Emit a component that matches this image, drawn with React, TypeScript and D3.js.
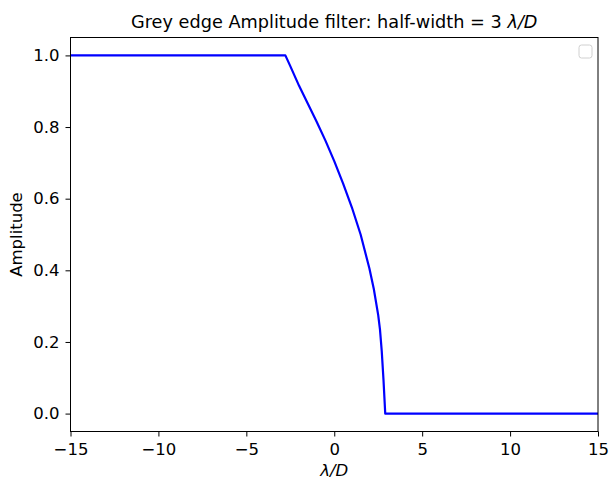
import React, { useEffect, useRef } from "react";
import * as d3 from "d3";

// curve points (lambda/D, amplitude)
const xVals = [-15, -10, -5, -2.78, -2.5, -2.0, -1.5, -1.0, -0.5, 0, 0.5, 1.0, 1.5, 2.0, 2.25, 2.5, 2.6, 2.7, 2.8, 2.9, 5, 10, 15];
const yVals = [1, 1, 1, 1, 0.97, 0.915, 0.865, 0.815, 0.762, 0.705, 0.643, 0.576, 0.5, 0.405, 0.348, 0.275, 0.235, 0.175, 0.095, 0, 0, 0, 0];
const xTicks = [-15, -10, -5, 0, 5, 10, 15];
const yTicks = [0, 0.2, 0.4, 0.6, 0.8, 1.0];

const W = 611;
const H = 480;
const margin = { top: 37.5, right: 13, bottom: 48.5, left: 70.5 };

export default function App() {
  const ref = useRef<SVGSVGElement>(null);

  useEffect(() => {
    const svg = d3.select(ref.current);
    svg.selectAll("*").remove();
    const w = W - margin.left - margin.right;
    const h = H - margin.top - margin.bottom;
    const font = "'DejaVu Sans', sans-serif";

    const x = d3.scaleLinear().domain([-15, 15]).range([0, w]);
    const y = d3.scaleLinear().domain([-0.05, 1.05]).range([h, 0]);

    const g = svg.append("g").attr("transform", `translate(${margin.left}, ${margin.top})`);

    const data = xVals.map((v, i) => [v, yVals[i]] as [number, number]);
    const line = d3.line<[number, number]>().x(d => x(d[0])).y(d => y(d[1]));
    g.append("path")
      .attr("d", line(data))
      .attr("fill", "none")
      .attr("stroke", "#0000ff")
      .attr("stroke-width", 2.2)
      .attr("stroke-linejoin", "round");

    const xAxis = g.append("g").attr("transform", `translate(0, ${h})`)
      .call(d3.axisBottom(x).tickValues(xTicks).tickSize(5).tickPadding(7).tickFormat(d => d3.format("d")(d as number).replace("-", "\u2212")));
    const yAxis = g.append("g")
      .call(d3.axisLeft(y).tickValues(yTicks).tickSize(5).tickPadding(6).tickFormat(d => d3.format(".1f")(d as number)));
    [xAxis, yAxis].forEach(a => {
      a.select(".domain").remove();
      a.selectAll("line").attr("stroke", "#000").attr("stroke-width", 1);
      a.selectAll("text").attr("font-family", font).attr("font-size", 16.5).attr("fill", "#000");
    });

    g.append("rect")
      .attr("width", w).attr("height", h)
      .attr("fill", "none").attr("stroke", "#000").attr("stroke-width", 1);

    // empty legend
    g.append("rect")
      .attr("x", w - 19).attr("y", 7.5).attr("width", 13).attr("height", 13).attr("rx", 2.5)
      .attr("fill", "#fff").attr("stroke", "#d0d0d0").attr("stroke-width", 1);

    const title = svg.append("text")
      .attr("x", margin.left + w / 2).attr("y", 28)
      .attr("text-anchor", "middle").attr("font-family", font).attr("font-size", 17.7);
    title.append("tspan").text("Grey edge Amplitude filter: half-width = 3 ");
    title.append("tspan").attr("font-style", "italic").text("\u03bb/D");

    svg.append("text")
      .attr("x", margin.left + w / 2).attr("y", 476)
      .attr("text-anchor", "middle").attr("font-family", font).attr("font-size", 16.5)
      .attr("font-style", "italic").text("\u03bb/D");

    svg.append("text")
      .attr("transform", `translate(22, ${margin.top + h / 2}) rotate(-90)`)
      .attr("text-anchor", "middle").attr("font-family", font).attr("font-size", 16.5)
      .text("Amplitude");
  }, []);

  return (
    <svg ref={ref} width={W} height={H} style={{ position: "absolute", left: 0, top: 0, background: "#fff" }} />
  );
}
